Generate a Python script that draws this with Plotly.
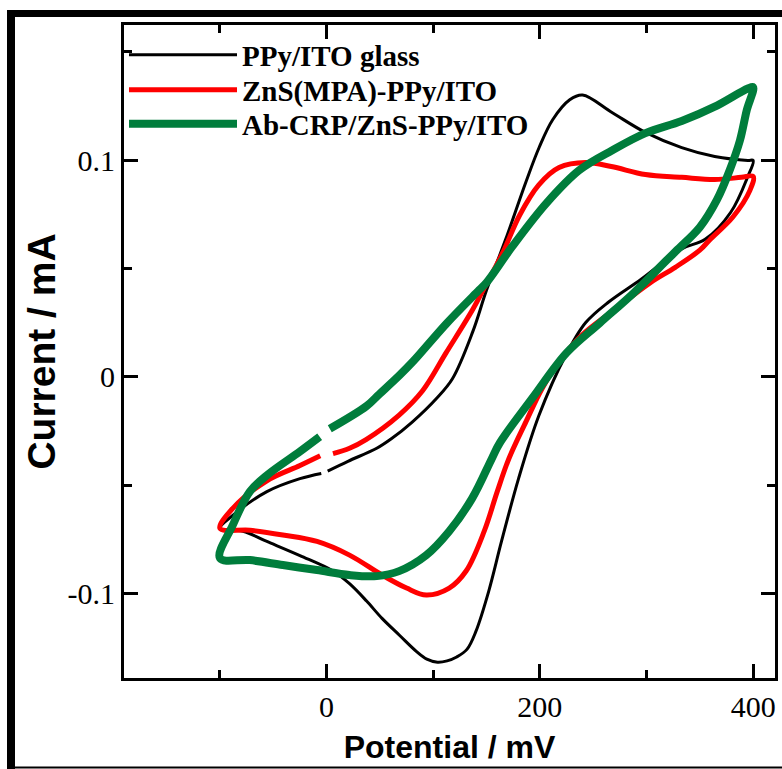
import plotly.graph_objects as go

# ---------------- data (mV, mA) ----------------
# each curve: upper (anodic) branch from ~0 mV to 400 mV, reverse branch to -100 mV, back to ~0 mV
ppy_potential = [1, 20, 47, 61, 80, 103, 118, 137, 150, 168, 187, 199.5, 212, 228, 240, 268, 299.5, 333, 364, 395, 400,
                 395, 379, 355, 333, 295, 264.5, 243, 224, 199, 180, 164, 152, 140, 131.6, 122, 113, 104, 94, 84.4, 68.8, 52, 37.5, 21.5, 5.6, -25, -56, -78.5, -100,
                 -88, -56, -25, -5]
ppy_current = [-0.0435, -0.039, -0.033, -0.0285, -0.021, -0.010, -0.0009, 0.0207, 0.040, 0.0635, 0.090, 0.1060, 0.1186, 0.1278, 0.130, 0.1218, 0.1126, 0.1057, 0.1016, 0.0998, 0.0998,
               0.0924, 0.0759, 0.0634, 0.059, 0.045, 0.0345, 0.025, 0.0097, -0.018, -0.047, -0.076, -0.099, -0.1175, -0.1258, -0.1293, -0.1311, -0.1317, -0.1303, -0.1268, -0.1195, -0.1115, -0.1035, -0.0955, -0.0895, -0.0825, -0.076, -0.0713, -0.070,
               -0.064, -0.053, -0.047, -0.0446]

zns_potential = [6, 21.5, 37, 68, 90, 112, 137, 150, 165, 181, 199, 218, 243, 267, 299, 333, 364, 389, 400,
                 397, 381, 359, 350, 327, 303, 271, 239, 218, 202, 187, 171, 160, 148, 131, 115, 93.5, 75, 52, 21.5, -9, -41, -72, -100,
                 -88, -56, -25, -6]
zns_current = [-0.0355, -0.033, -0.029, -0.0177, -0.0065, 0.0110, 0.031, 0.043, 0.057, 0.0745, 0.0885, 0.0965, 0.0988, 0.097, 0.0933, 0.092, 0.091, 0.092, 0.0924,
               0.086, 0.0737, 0.063, 0.0584, 0.0505, 0.0432, 0.0313, 0.019, 0.0069, -0.0055, -0.0207, -0.0377, -0.053, -0.071, -0.0895, -0.0975, -0.1007, -0.0975, -0.0915, -0.0823, -0.076, -0.073, -0.0708, -0.070,
               -0.0607, -0.048, -0.041, -0.0365]

ab_potential = [3, 37.5, 49.5, 68, 81, 112.5, 143, 150, 174, 206, 237, 268, 299, 333, 364, 395, 400,
                394, 387.6, 378, 366, 350, 328.5, 319, 287.6, 256, 225, 193.6, 162.3, 155, 136.6, 115, 93.5, 68, 47, 21.5, -9, -41, -72, -100,
                -88, -72, -56, -25, -6.5]
ab_current = [-0.024, -0.0135, -0.008, 0.0005, 0.007, 0.0246, 0.040, 0.0435, 0.060, 0.080, 0.0953, 0.1045, 0.1124, 0.118, 0.1246, 0.133, 0.1336,
              0.123, 0.109, 0.0953, 0.0816, 0.069, 0.0584, 0.0538, 0.0385, 0.0247, 0.011, -0.0094, -0.0306, -0.0377, -0.056, -0.0713, -0.0823, -0.0897, -0.092, -0.0915, -0.0892, -0.0869, -0.0846, -0.0837,
              -0.0685, -0.053, -0.0455, -0.0345, -0.0277]

series_names = ["PPy/ITO glass", "ZnS(MPA)-PPy/ITO", "Ab-CRP/ZnS-PPy/ITO"]

x_tick_vals = [0, 200, 400]
x_tick_text = ["0", "200", "400"]
y_tick_vals = [-0.1, 0, 0.1]
y_tick_text = ["-0.1", "0", "0.1"]

# ---------------- figure ----------------
W, H = 782, 769
L, R, T, B = 124, 7, 25, 91

def px_x(X):
    return (X - L) / (W - L - R)

def px_y(Y):
    return (H - B - Y) / (H - T - B)

fig = go.Figure()
styles = [("#000000", 3), ("#FF0000", 5), ("#007D3C", 8)]
legend_ids = ["legend", "legend2", "legend3"]
for name, xs, ys, (col, w), lg in zip(series_names,
                                      [ppy_potential, zns_potential, ab_potential],
                                      [ppy_current, zns_current, ab_current], styles, legend_ids):
    fig.add_trace(go.Scatter(x=xs, y=ys, mode="lines", name=name, legend=lg,
                             line=dict(color=col, width=w, shape="spline", smoothing=1.0)))

tickfont = dict(family="Liberation Serif, Times New Roman, serif", size=30, color="black")
titlefont = dict(family="Liberation Sans, Arial, sans-serif", color="black", weight="bold")

fig.update_xaxes(range=[-190, 420.5], showgrid=False, zeroline=False,
                 showline=True, linecolor="black", linewidth=3, mirror="ticks",
                 ticks="inside", ticklen=14, tickwidth=3, tickcolor="black",
                 tickvals=x_tick_vals, ticktext=x_tick_text, tickfont=tickfont,
                 minor=dict(ticks="inside", ticklen=8, tickwidth=3, tickcolor="black", dtick=100, tick0=0),
                 title=dict(text="Potential / mV", font=dict(size=32, **titlefont), standoff=14))
fig.update_yaxes(range=[-0.139, 0.1623], showgrid=False, zeroline=False,
                 showline=True, linecolor="black", linewidth=3, mirror="ticks",
                 ticks="inside", ticklen=14, tickwidth=3, tickcolor="black",
                 tickvals=y_tick_vals, ticktext=y_tick_text, tickfont=tickfont,
                 minor=dict(ticks="inside", ticklen=8, tickwidth=3, tickcolor="black", dtick=0.05, tick0=0),
                 title=dict(text="Current / mA", font=dict(size=39, **titlefont), standoff=0))

frame = [
    (7, 13.5, 782, 13.5, 7),
    (11, 10, 11, 769, 8),
    (7, 767.5, 782, 767.5, 2),
]
for x0, y0, x1, y1, w in frame:
    fig.add_shape(type="line", xref="paper", yref="paper",
                  x0=px_x(x0), y0=px_y(y0), x1=px_x(x1), y1=px_y(y1),
                  line=dict(color="black", width=w))

legend_font = dict(family="Liberation Serif, Times New Roman, serif", size=29,
                   color="black", weight="bold")
legend_rows = [55, 90, 124]
legend_common = dict(xanchor="left", yanchor="middle", bgcolor="rgba(0,0,0,0)",
                     borderwidth=0, itemwidth=108, font=legend_font)
fig.update_layout(
    width=W, height=H,
    margin=dict(l=L, r=R, t=T, b=B, autoexpand=False),
    paper_bgcolor="white", plot_bgcolor="white",
    showlegend=True,
    legend=dict(x=px_x(124), y=px_y(legend_rows[0]), **legend_common),
    legend2=dict(x=px_x(124), y=px_y(legend_rows[1]), **legend_common),
    legend3=dict(x=px_x(124), y=px_y(legend_rows[2]), **legend_common),
)

fig.write_html("out.html")
